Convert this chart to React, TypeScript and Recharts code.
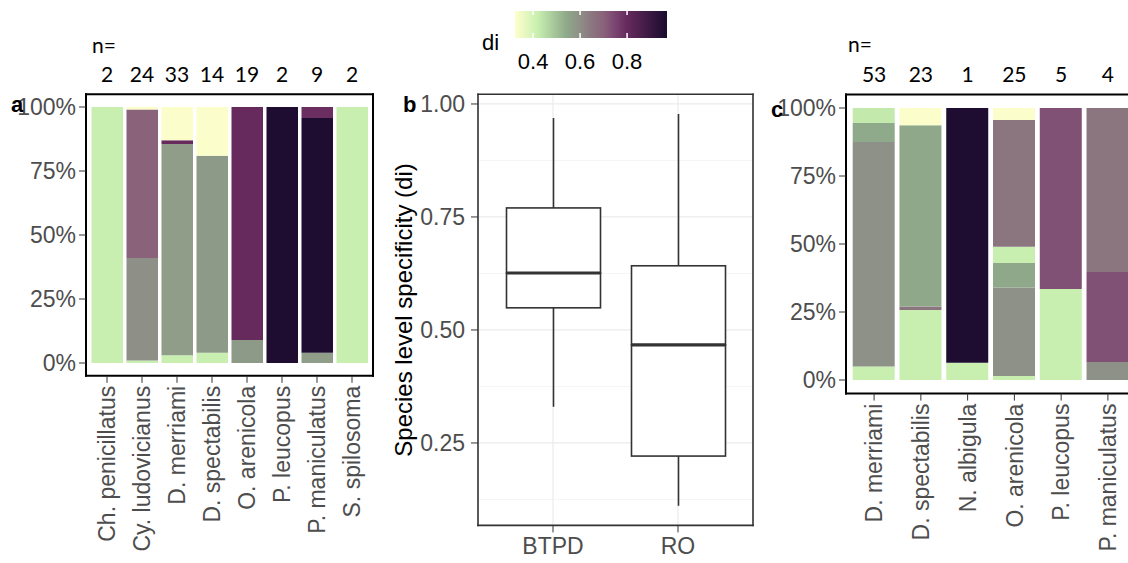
import React from "react";
import {
  BarChart, Bar, ComposedChart, XAxis, YAxis, Cell, CartesianGrid, ReferenceLine,
} from "recharts";

const FONT = "'Liberation Sans', Arial, Helvetica, sans-serif";
const N_FONT = "Lato, 'Open Sans', sans-serif";

// panel a
const speciesA = [
  "Ch. penicillatus", "Cy. ludovicianus", "D. merriami", "D. spectabilis",
  "O. arenicola", "P. leucopus", "P. maniculatus", "S. spilosoma",
];
const countsA = [2, 24, 33, 14, 19, 2, 9, 2];
// stacked shares (%), bottom -> top
const sharesA = [
  [100],
  [1, 40, 58, 1],
  [3, 82.5, 1.5, 13],
  [4, 77, 19],
  [9, 91],
  [100],
  [4, 91.7, 4.3],
  [100],
];
// di of each stacked segment (sets its colour)
const diA = [
  [0.42],
  [0.42, 0.6, 0.7, 0.33],
  [0.42, 0.57, 0.8, 0.33],
  [0.42, 0.575, 0.33],
  [0.575, 0.8],
  [0.96],
  [0.57, 0.96, 0.79],
  [0.42],
];

// panel c
const speciesC = ["D. merriami", "D. spectabilis", "N. albigula", "O. arenicola", "P. leucopus", "P. maniculatus"];
const countsC = [53, 23, 1, 25, 5, 4];
const sharesC = [
  [5, 82.5, 7, 5.5],
  [25.7, 1.3, 66.7, 6.3],
  [6.3, 93.7],
  [1.5, 32.5, 9, 6, 46.6, 4.4],
  [33.5, 66.5],
  [6.6, 33.1, 60.3],
];
const diC = [
  [0.42, 0.595, 0.54, 0.43],
  [0.42, 0.65, 0.545, 0.33],
  [0.42, 0.96],
  [0.42, 0.595, 0.545, 0.42, 0.65, 0.33],
  [0.42, 0.73],
  [0.595, 0.73, 0.65],
];

// panel b boxplots
const groupsB = ["BTPD", "RO"];
const lowB = [0.33, 0.111];
const q1B = [0.549, 0.221];
const medB = [0.626, 0.467];
const q3B = [0.77, 0.642];
const highB = [0.969, 0.978];

// di colour scale
const diStops = [0.323, 0.42, 0.54, 0.6, 0.65, 0.7, 0.74, 0.8, 0.97];
const diStopColors = ["#ffffcc", "#c8efb0", "#8faa8a", "#8e8f87", "#8b7680", "#8a6279", "#7e4a74", "#662a5c", "#1a0b2e"];
const diTicks = [0.4, 0.6, 0.8];

function hexRgb(h: string) {
  const n = parseInt(h.slice(1), 16);
  return [(n >> 16) & 255, (n >> 8) & 255, n & 255];
}

function diColor(v: number) {
  let i = 0;
  while (i < diStops.length - 2 && v > diStops[i + 1]) i++;
  const t = Math.max(0, Math.min(1, (v - diStops[i]) / (diStops[i + 1] - diStops[i])));
  const a = hexRgb(diStopColors[i]);
  const b = hexRgb(diStopColors[i + 1]);
  const c = a.map((x, k) => Math.round(x + (b[k] - x) * t));
  return `rgb(${c[0]},${c[1]},${c[2]})`;
}

const tickText = { fontSize: 23, fill: "#4d4d4d", fontFamily: FONT };

function RotatedTick(props: any) {
  const { x, y, payload } = props;
  return (
    <text transform={`translate(${x},${y}) rotate(-90)`} textAnchor="end" dy="0.36em" {...tickText}>
      {payload.value}
    </text>
  );
}

interface StackProps {
  species: string[];
  counts: number[];
  shares: number[][];
  di: number[][];
  width: number;
  margin: { top: number; right: number; bottom: number; left: number };
  pad: number;
  barSize: number;
  bottomHeight: number;
}

function StackPanel({ species, counts, shares, di, width, margin, pad, barSize, bottomHeight }: StackProps) {
  const depth = Math.max(...shares.map((s) => s.length));
  const rows = species.map((name, j) => {
    const row: Record<string, any> = { name };
    for (let i = 0; i < depth; i++) row[`s${i}`] = shares[j][i] ?? 0;
    return row;
  });
  const frame = { stroke: "#000", strokeWidth: 2, strokeLinecap: "square" as const };
  return (
    <BarChart width={width} height={563} data={rows} margin={margin}>
      <XAxis
        dataKey="name" interval={0} padding={{ left: pad, right: pad }} height={bottomHeight}
        tick={(p: any) => <RotatedTick {...p} />} tickSize={7} tickMargin={3}
        tickLine={{ stroke: "#333" }} axisLine={frame}
      />
      <XAxis
        xAxisId="n" orientation="top" dataKey="name" interval={0} padding={{ left: pad, right: pad }}
        height={30} tickLine={false} axisLine={frame} tickSize={6} tickMargin={6}
        tickFormatter={(_v: any, i: number) => String(counts[i])}
        tick={{ fontSize: 21, fill: "#000", fontFamily: N_FONT }}
      />
      <YAxis
        domain={[-5, 105]} ticks={[0, 25, 50, 75, 100]} allowDataOverflow
        tickFormatter={(v) => `${v}%`} width={60} tickSize={7} tickMargin={3}
        tick={tickText} tickLine={{ stroke: "#333" }} axisLine={frame}
      />
      <YAxis yAxisId="r" orientation="right" width={1} domain={[0, 1]} tick={false} tickLine={false} axisLine={frame} />
      {Array.from({ length: depth }, (_, i) => (
        <Bar key={i} dataKey={`s${i}`} stackId="s" barSize={barSize} isAnimationActive={false}>
          {species.map((_s, j) => (
            <Cell key={j} fill={di[j][i] !== undefined ? diColor(di[j][i]) : "none"} />
          ))}
        </Bar>
      ))}
    </BarChart>
  );
}

const boxLine = "#333";

function Whisker(p: any) {
  const { x, y, width, height } = p;
  if (!height) return <g />;
  const cx = x + width / 2;
  return <line x1={cx} x2={cx} y1={y} y2={y + height} stroke={boxLine} strokeWidth={1.6} />;
}

function LowerBox(p: any) {
  const { x, y, width, height } = p;
  return <rect x={x} y={y} width={width} height={height} fill="#fff" stroke={boxLine} strokeWidth={1.6} />;
}

function UpperBox(p: any) {
  const { x, y, width, height } = p;
  return (
    <g>
      <rect x={x} y={y} width={width} height={height} fill="#fff" stroke={boxLine} strokeWidth={1.6} />
      <line x1={x} x2={x + width} y1={y + height} y2={y + height} stroke={boxLine} strokeWidth={3.2} />
    </g>
  );
}

function BoxPanel() {
  const rows = groupsB.map((g, i) => ({
    g,
    base: lowB[i],
    lw: q1B[i] - lowB[i],
    lb: medB[i] - q1B[i],
    ub: q3B[i] - medB[i],
    uw: highB[i] - q3B[i],
  }));
  const frame = { stroke: "#333", strokeWidth: 1.6, strokeLinecap: "square" as const };
  return (
    <ComposedChart width={390} height={563} data={rows} margin={{ top: 93.3, right: 16, bottom: 7.6, left: 28 }}>
      <CartesianGrid vertical={false} horizontalValues={[0.125, 0.375, 0.625, 0.875]} stroke="#f2f2f2" strokeWidth={0.8} />
      <CartesianGrid stroke="#ebebeb" strokeWidth={1.2} />
      <XAxis
        dataKey="g" padding={{ left: 12.5, right: 12.5 }} height={30} tickSize={7} tickMargin={5}
        tick={tickText} tickLine={{ stroke: "#333" }} axisLine={frame}
      />
      <XAxis xAxisId="t" orientation="top" dataKey="g" padding={{ left: 12.5, right: 12.5 }} height={1} tick={false} tickLine={false} axisLine={frame} />
      <YAxis
        domain={[0.0676, 1.0214]} ticks={[0.25, 0.5, 0.75, 1]} allowDataOverflow
        tickFormatter={(v) => v.toFixed(2)} width={70} tickSize={7} tickMargin={6}
        tick={tickText} tickLine={{ stroke: "#333" }} axisLine={frame}
      />
      <YAxis yAxisId="r" orientation="right" width={1} domain={[0, 1]} tick={false} tickLine={false} axisLine={frame} />
      <Bar dataKey="base" stackId="b" barSize={94} fill="transparent" isAnimationActive={false} />
      <Bar dataKey="lw" stackId="b" barSize={94} shape={(p: any) => <Whisker {...p} />} isAnimationActive={false} />
      <Bar dataKey="lb" stackId="b" barSize={94} shape={(p: any) => <LowerBox {...p} />} isAnimationActive={false} />
      <Bar dataKey="ub" stackId="b" barSize={94} shape={(p: any) => <UpperBox {...p} />} isAnimationActive={false} />
      <Bar dataKey="uw" stackId="b" barSize={94} shape={(p: any) => <Whisker {...p} />} isAnimationActive={false} />
    </ComposedChart>
  );
}

function DiLegend() {
  const lo = diStops[0];
  const hi = diStops[diStops.length - 1];
  return (
    <ComposedChart
      layout="vertical" width={220} height={80} data={[{ k: "di", span: [lo, hi] }]}
      margin={{ top: 9, right: 33, bottom: 11, left: 35 }}
    >
      <defs>
        <linearGradient id="diGrad" x1="0" x2="1" y1="0" y2="0">
          {diStops.map((s, i) => (
            <stop key={i} offset={(s - lo) / (hi - lo)} stopColor={diStopColors[i]} />
          ))}
        </linearGradient>
      </defs>
      <XAxis
        type="number" domain={[lo, hi]} ticks={diTicks} tickFormatter={(v) => v.toFixed(1)}
        axisLine={false} tickLine={false} tickSize={0} tickMargin={14} height={30}
        tick={{ fontSize: 22, fill: "#000", fontFamily: FONT }}
      />
      <YAxis type="category" dataKey="k" hide />
      <Bar dataKey="span" barSize={30} fill="url(#diGrad)" isAnimationActive={false} />
      {diTicks.map((t) => (
        <ReferenceLine key={t} x={t} stroke="#fff" strokeWidth={1.5} strokeDasharray="6 18 6" />
      ))}
    </ComposedChart>
  );
}

export default function App() {
  return (
    <div style={{ position: "absolute", left: 0, top: 0, width: 1128, height: 563, overflow: "hidden", background: "#fff" }}>
      <div style={{ position: "absolute", left: 0, top: 0 }}>
        <StackPanel
          species={speciesA} counts={countsA} shares={sharesA} di={diA}
          width={380} margin={{ top: 64.2, right: 6, bottom: 37.2, left: 26 }}
          pad={3.5} barSize={31.5} bottomHeight={150}
        />
      </div>
      <div style={{ position: "absolute", left: 380, top: 0 }}>
        <BoxPanel />
      </div>
      <div style={{ position: "absolute", left: 760, top: 0 }}>
        <StackPanel
          species={speciesC} counts={countsC} shares={sharesC} di={diC}
          width={400} margin={{ top: 64.4, right: 23, bottom: 29.4, left: 26 }}
          pad={4.7} barSize={42} bottomHeight={140}
        />
      </div>
      <div style={{ position: "absolute", left: 480, top: 0 }}>
        <DiLegend />
      </div>
      <svg width={1128} height={563} style={{ position: "absolute", left: 0, top: 0, pointerEvents: "none" }}>
        <text x={92} y={53} fontSize={21} fontFamily={N_FONT} fill="#000">n=</text>
        <text x={848} y={52} fontSize={21} fontFamily={N_FONT} fill="#000">n=</text>
        <text x={11} y={112} fontSize={22} fontWeight="bold" fontFamily={FONT} fill="#000">a</text>
        <text x={403} y={112} fontSize={22} fontWeight="bold" fontFamily={FONT} fill="#000">b</text>
        <text x={771} y={117} fontSize={22} fontWeight="bold" fontFamily={FONT} fill="#000">c</text>
        <text x={482} y={50} fontSize={22} fontFamily={FONT} fill="#000">di</text>
        <text transform="translate(412,310) rotate(-90)" textAnchor="middle" fontSize={24} fontFamily={FONT} fill="#000">
          Species level specificity (di)
        </text>
      </svg>
    </div>
  );
}
